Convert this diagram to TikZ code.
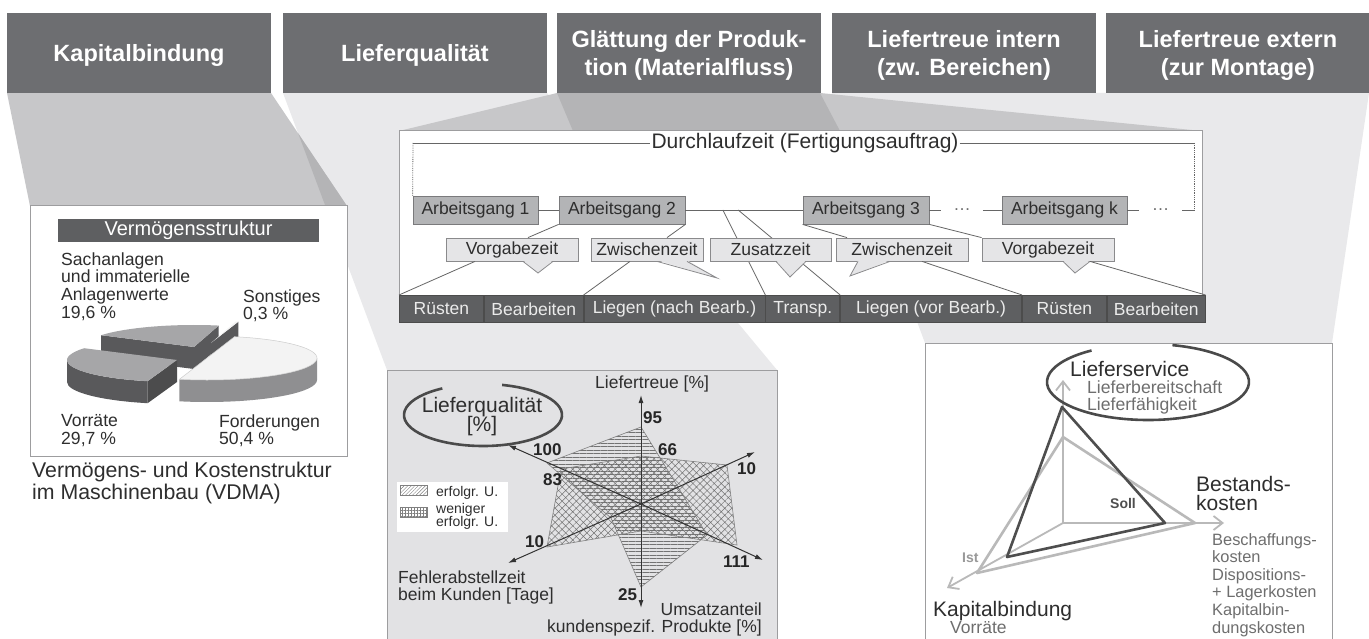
\documentclass[tikz,border=0pt]{standalone}
\usepackage{fontspec}
\setmainfont{Liberation Sans}
\usetikzlibrary{positioning,arrows.meta,calc,patterns.meta}
\definecolor{headcol}{HTML}{6D6E71}
\definecolor{barcol}{HTML}{5E5F61}
\definecolor{agcol}{HTML}{B3B4B6}
\definecolor{agcoldark}{HTML}{7A7A7C}
\definecolor{callcol}{HTML}{E5E5E7}
\definecolor{callcoldark}{HTML}{8A8A8C}
\definecolor{bandlight}{HTML}{E9E9EB}
\definecolor{bandmid}{HTML}{C7C7C9}
\definecolor{banddark}{HTML}{B4B4B6}
\definecolor{panelline}{HTML}{9D9D9F}
\definecolor{radarfill}{HTML}{E2E2E4}
\definecolor{inkdark}{HTML}{2E2E2E}
\definecolor{inkgray}{HTML}{6E6E6E}
\definecolor{sollcol}{HTML}{4E4E4E}
\definecolor{istcol}{HTML}{B9B9B9}
\definecolor{ringcol}{HTML}{4A4A4A}
\definecolor{pietop}{HTML}{A6A6A8}
\definecolor{pieside}{HTML}{59595B}
\definecolor{pielight}{HTML}{F3F3F3}
\definecolor{pielightside}{HTML}{8F8F91}
\lineskiplimit=-100pt
\newcommand{\calltip}[4]{%
  \fill[callcol] ([xshift=#2pt,yshift=1.2pt]#1.south) -- #4 -- ([xshift=#3pt,yshift=1.2pt]#1.south) -- cycle;
  \draw[callcoldark, line width=0.8pt] ([xshift=#2pt]#1.south) -- #4 -- ([xshift=#3pt]#1.south);}

\begin{document}
\begin{tikzpicture}[
  x=1pt, y=-1pt,
  head/.style={fill=headcol, text=white, minimum width=264pt, minimum height=80pt,
    inner sep=0pt, align=center, text depth=0pt, font=\fontsize{23.5}{28}\selectfont\bfseries},
  panel/.style={draw=panelline, line width=1pt},
  agbox/.style={draw=agcoldark, fill=agcol, line width=0.8pt, minimum height=28pt,
    inner sep=0pt, text=inkdark, font=\fontsize{17.5}{17.5}\selectfont},
  callout/.style={draw=callcoldark, fill=callcol, line width=0.8pt, minimum height=23pt,
    inner sep=0pt, text=inkdark, font=\fontsize{17.5}{17.5}\selectfont},
  cell/.style={draw=black!70, fill=barcol, line width=0.8pt, minimum height=27pt,
    inner sep=0pt, text=white!92!black, font=\fontsize{17.5}{17.5}\selectfont},
  dotsnode/.style={inner ysep=0pt, text=inkgray, font=\fontsize{17.5}{17.5}\selectfont},
  link/.style={draw=black!60, line width=0.8pt},
  lbl/.style={inner sep=0pt, text=inkdark},
  axis/.style={draw=black!80, line width=1pt, -{Latex[length=8pt,width=5pt]}},
  num/.style={inner sep=0pt, anchor=base west, text=black!85, font=\fontsize{17}{17}\selectfont\bfseries},
  ring/.style={draw=ringcol, line width=2.6pt},
  taxis/.style={draw=istcol, line width=1.8pt, -{Straight Barb[length=9pt,width=14pt]}},
  ist/.style={draw=istcol, line width=2.6pt, line join=round},
  soll/.style={draw=sollcol, line width=2.6pt, line join=round}
]
\useasboundingbox (0,0) rectangle (1369,639);
\fill[white] (0,0) rectangle (1369,639);

% Bands from the headers to the panels
\fill[bandlight] (283,93) -- (547,93) -- (777,370) -- (387,370) -- cycle;
\fill[bandlight] (832,93) -- (1369,93) -- (1332,343) -- (925,343) -- cycle;
\fill[bandmid] (7,93) -- (271,93) -- (347,206) -- (30,206) -- cycle;
\fill[banddark] (298.2,133.4) -- (347,206) -- (325.4,206) -- cycle;
\fill[bandmid] (557,93) -- (820,93) -- (1202,131) -- (399,131) -- cycle;
\fill[banddark] (557,93) -- (820,93) -- (840,131) -- (573,131) -- cycle;

% Header row
\node[head] (kap) at (139,53) {Kapitalbindung};
\node[head] (lq) at (415,53) {Lieferqualität};
\node[head] (gl) at (689,53) {Glättung der Produk-\\tion (Materialfluss)};
\node[head] (lti) at (964,53) {Liefertreue intern\\(zw. Bereichen)};
\node[head] (lte) at (1238,53) {Liefertreue extern\\(zur Montage)};

% Pie panel
\draw[panel, fill=white] (30,206) rectangle (347,456);
\node[fill=barcol, text=white, minimum width=261pt, minimum height=23pt, inner sep=0pt,
  font=\fontsize{20}{20}\selectfont] (vtitle) at (188.5,230.5) {Vermögensstruktur};
\coordinate (cS) at (194,347);
\coordinate (cO) at (211,343);
\coordinate (cV) at (177,360);
\coordinate (cF) at (207,358);
% Sachanlagen
\fill[pieside] (cS) -- ($(cS)+(212.4:110 and 22)$) -- ++(0,22) -- ($(cS)+(0,22)$) -- cycle;
\fill[pieside] (cS) -- ($(cS)+(283:110 and 22)$) -- ++(0,22) -- ($(cS)+(0,22)$) -- cycle;
\fill[pietop] (cS) -- ($(cS)+(212.4:110 and 22)$) arc[start angle=212.4, end angle=283, x radius=110, y radius=22] -- cycle;
% Sonstiges
\fill[pieside] (cO) -- ($(cO)+(284.4:110 and 22)$) -- ++(0,22) -- ($(cO)+(0,22)$) -- cycle;
\fill[pielight] (cO) -- ($(cO)+(283:110 and 22)$) arc[start angle=283, end angle=284.4, x radius=110, y radius=22] -- cycle;
% Vorraete
\fill[pieside] ($(cV)+(105.5:110 and 22)$) arc[start angle=105.5, end angle=180, x radius=110, y radius=22]
  -- ++(0,22) arc[start angle=180, end angle=105.5, x radius=110, y radius=22] -- cycle;
\fill[pieside!85!black] (cV) -- ($(cV)+(105.5:110 and 22)$) -- ++(0,22) -- ($(cV)+(0,22)$) -- cycle;
\fill[pietop] (cV) -- ($(cV)+(105.5:110 and 22)$) arc[start angle=105.5, end angle=212.4, x radius=110, y radius=22] -- cycle;
% Forderungen
\fill[pielightside] ($(cF)+(0:110 and 22)$) arc[start angle=0, end angle=104.5, x radius=110, y radius=22]
  -- ++(0,22) arc[start angle=104.5, end angle=0, x radius=110, y radius=22] -- cycle;
\draw[black!20, line width=0.5pt, fill=pielight] (cF) -- ($(cF)+(-75.5:110 and 22)$) arc[start angle=-75.5, end angle=104.5, x radius=110, y radius=22] -- cycle;
% Pie labels
\node[lbl, anchor=north west, align=left, font=\fontsize{17.6}{17.7}\selectfont] (sach) at (61,252.2) {Sachanlagen\\und immaterielle\\Anlagenwerte\\19,6 \%};
\node[lbl, anchor=north west, align=left, font=\fontsize{17.6}{17.7}\selectfont] (sonst) at (243,289.2) {Sonstiges\\0,3 \%};
\node[lbl, anchor=north west, align=left, font=\fontsize{17.6}{17.7}\selectfont] (vorr) at (61,414.2) {Vorräte\\29,7 \%};
\node[lbl, anchor=north west, align=left, font=\fontsize{17.6}{17.7}\selectfont] (ford) at (219,414.2) {Forderungen\\50,4 \%};
\node[lbl, anchor=north west, align=left, font=\fontsize{21.3}{22}\selectfont] (vdma) at (32,461.5) {Vermögens- und Kostenstruktur\\im Maschinenbau (VDMA)};

% Flow panel
\draw[panel, fill=white] (399,131) rectangle (1202,322);
\node[lbl, inner xsep=1pt, font=\fontsize{21}{21}\selectfont] (dlz) at (805,143) {Durchlaufzeit (Fertigungsauftrag)};
\coordinate (dl) at (413,143);
\coordinate (dt) at (1194,143);
\coordinate (dr) at (1194,210);
% Bottom bar
\node[cell, minimum width=84pt, anchor=north west] (r1) at (399,295) {Rüsten};
\node[cell, minimum width=99pt, right=0pt of r1] (b1) {Bearbeiten};
\node[cell, minimum width=181pt, right=0pt of b1] (ln) {Liegen (nach Bearb.)};
\node[cell, minimum width=74pt, right=0pt of ln] (tr) {Transp.};
\node[cell, minimum width=181pt, right=0pt of tr] (lv) {Liegen (vor Bearb.)};
\node[cell, minimum width=84pt, right=0pt of lv] (r2) {Rüsten};
\node[cell, minimum width=98pt, right=0pt of r2] (b2) {Bearbeiten};
% Operations
\node[agbox, minimum width=125pt] (ag1) at (475.5,210) {Arbeitsgang 1};
\node[agbox, minimum width=126pt] (ag2) at (622,210) {Arbeitsgang 2};
\node[agbox, minimum width=126pt] (ag3) at (866,210) {Arbeitsgang 3};
\node[agbox, minimum width=125pt] (agk) at (1064.5,210) {Arbeitsgang k};
\node[dotsnode, inner xsep=12pt] (dots1) at (962,210) {…};
\node[dotsnode, inner xsep=13pt] (dots2) at (1160.5,210) {…};
\draw[link] (dl) -- (dlz.west);
\draw[link] (dlz.east) -- (dt);
\draw[link, densely dotted] (dl) -- (ag1.north west);
\draw[link, densely dotted] (dt) -- (dr);
\draw[link] (ag1) -- (ag2);
\draw[link] (ag2) -- (ag3);
\draw[link] (ag3) -- (dots1);
\draw[link] (dots1) -- (agk);
\draw[link] (agk) -- (dots2);
\draw[link] (dots2) -- (dr);
% Transport bracket
\coordinate (m1) at ($(ag2.east)!0.32!(ag3.west)$);
\coordinate (m2) at ($(ag2.east)!0.45!(ag3.west)$);
\draw[link] (m1) -- (tr.north west);
\draw[link] (m2) -- (tr.north east);
% Time callouts
\node[callout, minimum width=132pt] (vz1) at (512,249.5) {Vorgabezeit};
\node[callout, minimum width=112pt] (zz1) at (647,249.5) {Zwischenzeit};
\node[callout, minimum width=121pt] (zs) at (770.5,249.5) {Zusatzzeit};
\node[callout, minimum width=132pt] (zz2) at (902,249.5) {Zwischenzeit};
\node[callout, minimum width=132pt] (vz2) at (1048,249.5) {Vorgabezeit};
\calltip{vz1}{11}{41}{(538,273)}
\calltip{zz1}{10}{40}{(717,278)}
\calltip{zs}{5.5}{35.5}{(790,277)}
\calltip{zz2}{-44}{-12}{(850,276)}
\calltip{vz2}{15}{42}{(1075,273)}
\draw[link] (ag2.south west) -- ([xshift=16pt]vz1.north);
\draw[link] (ag2.south east) -- ([xshift=20pt]zz1.north);
\draw[link] (ag3.south west) -- ([xshift=-55pt]zz2.north);
\draw[link] (ag3.south east) -- (vz2.north west);
\draw[link] ([xshift=-37pt]vz1.south) -- (r1.north west);
\draw[link] ([xshift=-17pt]zz1.south) -- (ln.north west);
\draw[link] ([xshift=20pt]zz2.south) -- (lv.north east);
\draw[link] ([xshift=42pt]vz2.south) -- (b2.north east);

% Radar panel
\draw[panel, fill=radarfill] (387,370) rectangle (777,650);
\coordinate (rc) at (641,504);
\draw[black!50, line width=0.6pt, pattern={Lines[angle=0,distance=3.5pt,line width=0.6pt]}, pattern color=black!55]
  ($(rc)+(0,-77)$) -- ($(rc)+(37,-17)$) -- ($(rc)+(66,31)$) -- ($(rc)+(0,83)$) -- ($(rc)+(-30,14)$) -- ($(rc)+(-94,-41)$) -- cycle;
\draw[black!50, line width=0.6pt, pattern={Hatch[angle=45,distance=5pt,line width=0.5pt]}, pattern color=black!55]
  ($(rc)+(0,-48)$) -- ($(rc)+(86,-39)$) -- ($(rc)+(96,41)$) -- ($(rc)+(0,27)$) -- ($(rc)+(-94,43)$) -- ($(rc)+(-80,-35)$) -- cycle;
\coordinate (ax-up) at ($(rc)+(0,-109)$);
\coordinate (ax-dn) at ($(rc)+(0,104)$);
\coordinate (ax-ur) at ($(rc)+(114,-52)$);
\coordinate (ax-ll) at ($(rc)+(-133,59)$);
\coordinate (ax-ul) at ($(rc)+(-133,-59)$);
\coordinate (ax-lr) at ($(rc)+(122,56)$);
\draw[axis] (rc) -- (ax-up);
\draw[axis] (rc) -- (ax-dn);
\draw[axis] (rc) -- (ax-ur);
\draw[axis] (rc) -- (ax-ll);
\draw[axis] (rc) -- (ax-ul);
\draw[axis] (rc) -- (ax-lr);
\node[num] (n95) at (643,423) {95};
\node[num] (n66) at (658,455) {66};
\node[num] (n10r) at (737,474) {10};
\node[num] (n100) at (533,455) {100};
\node[num] (n83) at (543,485) {83};
\node[num] (n10l) at (525,547) {10};
\node[num] (n111) at (723,567) {111};
\node[num] (n25) at (618,600) {25};
\node[lbl, anchor=base west, font=\fontsize{17.5}{17.5}\selectfont] (lt) at (595,388) {Liefertreue [\%]};
\node[lbl, anchor=north west, align=left, font=\fontsize{17.5}{17}\selectfont] (fz) at (398,570.2) {Fehlerabstellzeit\\beim Kunden [Tage]};
\node[lbl, anchor=north east, align=right, font=\fontsize{17.5}{17}\selectfont] (ua) at (762,602.2) {Umsatzanteil\\kundenspezif. Produkte [\%]};
\coordinate (lqc) at (483,415);
\draw[ring] ($(lqc)+(284:79 and 31)$) arc[start angle=284, end angle=599, x radius=79, y radius=31];
\node[lbl, align=center, font=\fontsize{21}{19}\selectfont] (lqt) at (482,417) {Lieferqualität\\{[\%]}};
% Legend
\fill[white] (397,482) rectangle (508,532);
\draw[black!50, line width=0.5pt, pattern={Lines[angle=45,distance=2.5pt,line width=0.4pt]}, pattern color=black!50] (400,485) rectangle (427,495);
\draw[black!50, line width=0.5pt, pattern={Hatch[angle=0,distance=3pt,line width=0.4pt]}, pattern color=black!50] (400,507) rectangle (427,517);
\node[lbl, anchor=base west, font=\fontsize{14}{13}\selectfont] (leg1) at (436,496) {erfolgr. U.};
\node[lbl, anchor=north west, align=left, font=\fontsize{14}{13}\selectfont] (leg2) at (436,502.8) {weniger\\erfolgr. U.};

% Triangle panel
\draw[panel, fill=white] (925,343) rectangle (1332,650);
\coordinate (to) at (1063,523);
\coordinate (tax-u) at (1063,380);
\coordinate (tax-r) at (1224,523);
\coordinate (tax-l) at (947,588);
\draw[taxis] (to) -- (tax-u);
\draw[taxis] (to) -- (tax-r);
\draw[taxis] (to) -- (tax-l);
\coordinate (ist-t) at (1063,437);
\coordinate (ist-r) at (1195,523);
\coordinate (ist-l) at (977,573);
\coordinate (soll-t) at (1062,407);
\coordinate (soll-r) at (1165,523);
\coordinate (soll-l) at (1007,557);
\draw[ist] (ist-t) -- (ist-r) -- (ist-l) -- cycle;
\draw[soll] (soll-t) -- (soll-r) -- (soll-l) -- cycle;
\node[lbl, anchor=base west, text=sollcol, font=\fontsize{14}{14}\selectfont\bfseries] (sl) at (1110,508) {Soll};
\node[lbl, anchor=base west, text=black!40, font=\fontsize{14}{14}\selectfont\bfseries] (il) at (962,562) {Ist};
\coordinate (lsc) at (1148,382);
\draw[ring] ($(lsc)+(284:101 and 38)$) arc[start angle=284, end angle=596, x radius=101, y radius=38];
\node[lbl, anchor=base west, font=\fontsize{21}{21}\selectfont] (ls) at (1070,376) {Lieferservice};
\node[lbl, anchor=north west, align=left, text=inkgray, font=\fontsize{17.6}{17}\selectfont] (lb) at (1087,380.5) {Lieferbereitschaft\\Lieferfähigkeit};
\node[lbl, anchor=north west, align=left, font=\fontsize{21}{19}\selectfont] (bk) at (1196,476) {Bestands-\\kosten};
\node[lbl, anchor=north west, align=left, text=inkgray, font=\fontsize{16.4}{17.6}\selectfont] (bkl) at (1212,533) {Beschaffungs-\\kosten\\Dispositions-\\+ Lagerkosten\\Kapitalbin-\\dungskosten};
\node[lbl, anchor=base west, font=\fontsize{21}{21}\selectfont] (kb) at (933,616) {Kapitalbindung};
\node[lbl, anchor=base west, text=inkgray, font=\fontsize{17.5}{17.5}\selectfont] (vr) at (950,633) {Vorräte};
\end{tikzpicture}
\end{document}
